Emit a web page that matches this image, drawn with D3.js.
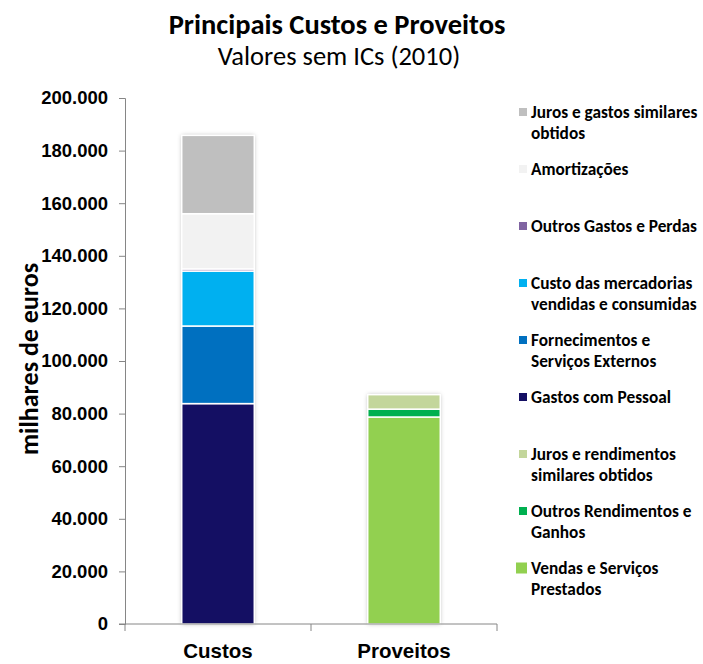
<!DOCTYPE html>
<html>
<head>
<meta charset="utf-8">
<script src="https://cdn.jsdelivr.net/npm/d3@7"></script>
<style>
  body { margin: 0; background: #fff; }
  svg { font-family: Carlito, Lato, "Open Sans", sans-serif; }
</style>
</head>
<body>
<div id="chart"></div>
<script>
// Categories on the x axis
const categories = ['Custos', 'Proveitos'];

// Series, bottom of stack first (values in milhares de euros)
const seriesNames = [
    'Gastos com Pessoal',
    'Fornecimentos e Serviços Externos',
    'Custo das mercadorias vendidas e consumidas',
    'Outros Gastos e Perdas',
    'Amortizações',
    'Juros e gastos similares obtidos',
    'Vendas e Serviços Prestados',
    'Outros Rendimentos e Ganhos',
    'Juros e rendimentos similares obtidos'
];
const custosValues    = [83800, 29500, 20900, 800, 21000, 29800, 0, 0, 0];
const proveitosValues = [0, 0, 0, 0, 0, 0, 78700, 3000, 5500];

const seriesColors = ['#140f63', '#0070c0', '#00b0f0', '#8064a2', '#f2f2f2', '#bfbfbf', '#92d050', '#00b050', '#c3d69b'];

// Legend, top to bottom, with manual line breaks as in the original
const legendOrder = [5, 4, 3, 2, 1, 0, 8, 7, 6];
const legendLines = {
    0: ['Gastos com Pessoal'],
    1: ['Fornecimentos e', 'Serviços Externos'],
    2: ['Custo das mercadorias', 'vendidas e consumidas'],
    3: ['Outros Gastos e Perdas'],
    4: ['Amortizações'],
    5: ['Juros e gastos similares', 'obtidos'],
    6: ['Vendas e Serviços', 'Prestados'],
    7: ['Outros Rendimentos e', 'Ganhos'],
    8: ['Juros e rendimentos', 'similares obtidos']
};

const yTicks = d3.range(0, 200001, 20000);

const width = 703, height = 664;
const margin = { top: 98, right: 206, bottom: 40, left: 125 };
const plotW = width - margin.left - margin.right;
const plotH = height - margin.top - margin.bottom;

const svg = d3.select('#chart').append('svg')
    .attr('width', width)
    .attr('height', height);

// soft shadow like the spreadsheet bars
const defs = svg.append('defs');
const shadow = defs.append('filter').attr('id', 'shadow')
    .attr('x', '-20%').attr('y', '-5%').attr('width', '140%').attr('height', '110%');
shadow.append('feDropShadow')
    .attr('dx', 0).attr('dy', 0).attr('stdDeviation', 2.2)
    .attr('flood-color', '#000').attr('flood-opacity', 0.28);

const g = svg.append('g').attr('transform', `translate(${margin.left},${margin.top})`);

const x = d3.scaleBand().domain(categories).range([0, plotW]).paddingInner(0.61).paddingOuter(0.305);
const y = d3.scaleLinear().domain([0, 200000]).range([plotH, 0]);

// build table for stacking
const table = categories.map((c, ci) => {
    const row = { category: c };
    seriesNames.forEach((s, si) => { row[s] = ci === 0 ? custosValues[si] : proveitosValues[si]; });
    return row;
});
const stacked = d3.stack().keys(seriesNames)(table);

// bars
const barGroup = g.append('g').attr('class', 'bars');
categories.forEach(c => {
    const total = d3.max(stacked, l => l.find(d => d.data.category === c)[1]);
    barGroup.append('rect')
        .attr('x', x(c))
        .attr('y', y(total))
        .attr('width', x.bandwidth())
        .attr('height', y(0) - y(total))
        .attr('fill', '#fff')
        .attr('filter', 'url(#shadow)');
});

stacked.forEach((layer, li) => {
    barGroup.selectAll(null)
        .data(layer.filter(d => d[1] - d[0] > 0))
        .enter()
        .append('rect')
        .attr('x', d => x(d.data.category))
        .attr('y', d => y(d[1]))
        .attr('width', x.bandwidth())
        .attr('height', d => y(d[0]) - y(d[1]))
        .attr('fill', seriesColors[li])
        .attr('stroke', '#fff')
        .attr('stroke-width', 1.5);
});

// y axis
const yAxis = g.append('g')
    .call(d3.axisLeft(y).tickValues(yTicks).tickSize(6).tickPadding(11)
        .tickFormat(d => d3.format(',')(d).replace(/,/g, '.')));
yAxis.select('.domain').attr('stroke', '#868686');
yAxis.selectAll('.tick line').attr('stroke', '#868686');
yAxis.selectAll('.tick text')
    .attr('font-size', 18.5).attr('font-weight', 'bold').attr('fill', '#000');

// x axis
const xAxis = g.append('g')
    .attr('transform', `translate(0,${plotH})`)
    .call(d3.axisBottom(x).tickSize(0).tickPadding(19));
xAxis.select('.domain').attr('stroke', '#868686').attr('d', `M0,0H${plotW}`);
xAxis.selectAll('.tick text')
    .attr('font-size', 20.5).attr('font-weight', 'bold').attr('fill', '#000');
// boundary ticks between categories
xAxis.selectAll('.sep')
    .data([0, plotW / 2, plotW])
    .enter().append('line')
    .attr('x1', d => d).attr('x2', d => d)
    .attr('y1', 0).attr('y2', 7)
    .attr('stroke', '#868686');
xAxis.append('line').attr('x1', -6).attr('x2', 0).attr('y1', 0).attr('y2', 0).attr('stroke', '#868686');

// axis title
svg.append('text')
    .attr('transform', `translate(38,${margin.top + plotH / 2 - 2}) rotate(-90)`)
    .attr('text-anchor', 'middle')
    .attr('font-size', 26).attr('font-weight', 'bold')
    .text('milhares de euros');

// titles
svg.append('text')
    .attr('x', 337).attr('y', 34)
    .attr('text-anchor', 'middle')
    .attr('font-size', 28.5).attr('font-weight', 'bold')
    .text('Principais Custos e Proveitos');
svg.append('text')
    .attr('x', 339).attr('y', 65)
    .attr('text-anchor', 'middle')
    .attr('font-size', 26.5)
    .text('Valores sem ICs (2010)');

// legend
const legend = svg.append('g').attr('class', 'legend');
legendOrder.forEach((si, i) => {
    const cy = 112 + i * 57;
    const big = si === 6;
    const s = big ? 11 : 8;
    legend.append('rect')
        .attr('x', 527 - s).attr('y', cy - s / 2)
        .attr('width', s).attr('height', s)
        .attr('fill', seriesColors[si]);
    legend.append('text')
        .attr('x', 531).attr('y', cy + 6)
        .attr('font-size', 17.3).attr('font-weight', 'bold')
        .selectAll('tspan')
        .data(legendLines[si])
        .enter().append('tspan')
        .attr('x', 531)
        .attr('dy', (d, k) => k === 0 ? 0 : 21)
        .text(d => d);
});
</script>
</body>
</html>
